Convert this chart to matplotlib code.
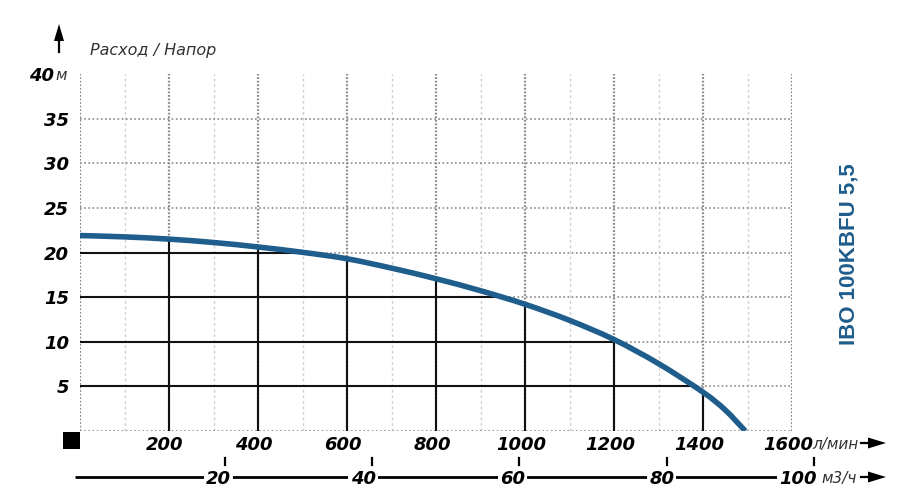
import matplotlib
matplotlib.use("Agg")
import matplotlib.pyplot as plt
import numpy as np
from matplotlib.patches import Polygon, Rectangle, PathPatch
from matplotlib.path import Path
from matplotlib.transforms import IdentityTransform

# ---- data ----
flow_lpm = [0, 100, 200, 300, 400, 500, 600, 700, 800, 900, 1000, 1100, 1200, 1300, 1400, 1450, 1495]
head_m = [21.9, 21.75, 21.5, 21.12, 20.62, 20.02, 19.3, 18.25, 17.06, 15.72, 14.2, 12.4, 10.25, 7.55, 4.35, 2.35, 0.0]
x_ticks = [200, 400, 600, 800, 1000, 1200, 1400, 1600]
x_minor = [100, 300, 500, 700, 900, 1100, 1300, 1500]
y_ticks = [5, 10, 15, 20, 25, 30, 35, 40]
m3h_ticks = [20, 40, 60, 80, 100]
model_name = "IBO 100KBFU 5,5"
y_title = "Расход / Напор"
x_unit = "л/мин"
m3h_unit = "м3/ч"
y_unit = "м"

# label pixel shifts relative to tick marks (style)
m3h_label_shift = {20: -6, 40: -9, 60: -7, 80: -5, 100: -16}

BLUE = "#1e5d8c"
W, H = 915, 501
fig = plt.figure(figsize=(W / 100, H / 100), dpi=100)
ax = fig.add_axes([80 / W, 1 - 431 / H, 712 / W, 357 / H])
ax.set_xlim(0, 1600)
ax.set_ylim(0, 40)
for s in ax.spines.values():
    s.set_visible(False)
ax.set_xticks([])
ax.set_yticks([])

# grid
for xv in x_minor:
    ax.axvline(xv, color="#cfcfcf", lw=1.0, ls=(0, (2, 2)), zorder=1)
for xv in [0] + x_ticks:
    ax.axvline(xv, color="#8a8a8a", lw=1.6, ls=(0, (0.8, 0.8)), zorder=1.2)
for yv in [0] + y_ticks[:-1]:
    ax.axhline(yv, color="#8a8a8a", lw=1.2, ls=(0, (1, 1.5)), zorder=1.2)

# solid reference lines up to curve
fl = np.array(flow_lpm, float)
hd = np.array(head_m, float)
for xv in x_ticks:
    if xv < fl[-1]:
        yv = np.interp(xv, fl, hd)
        ax.plot([xv, xv], [0, yv], color="#111111", lw=1.5, zorder=2, solid_capstyle="butt")
for yv in [5, 10, 15, 20]:
    xv = np.interp(yv, hd[::-1], fl[::-1])
    ax.plot([0, xv], [yv, yv], color="#111111", lw=1.5, zorder=2, solid_capstyle="butt")

# smooth curve through the read points (Catmull-Rom -> cubic Bezier)
pts = np.column_stack([fl, hd])
verts = [pts[0]]
codes = [Path.MOVETO]
n = len(pts)
for i in range(n - 1):
    p0 = pts[i - 1] if i > 0 else pts[i]
    p1 = pts[i]
    p2 = pts[i + 1]
    p3 = pts[i + 2] if i + 2 < n else pts[i + 1]
    c1 = p1 + (p2 - p0) / 6.0
    c2 = p2 - (p3 - p1) / 6.0
    verts += [c1, c2, p2]
    codes += [Path.CURVE4] * 3
curve = PathPatch(Path(verts, codes), fc="none", ec=BLUE, lw=4.0, zorder=3,
                  capstyle="butt", joinstyle="round")
ax.add_patch(curve)

num_font = dict(family="DejaVu Sans", weight="bold", style="italic", size=13)
unit_font = dict(family="DejaVu Sans", style="italic", size=11, color="#333333")

# y labels
ytr = ax.get_yaxis_transform()
for yv in y_ticks:
    if yv == 40:
        ax.annotate(str(yv), xy=(0, yv), xycoords=ytr, xytext=(-26 * 0.72, 0),
                    textcoords="offset points", ha="right", va="center_baseline",
                    **num_font)
        ax.annotate(y_unit, xy=(0, yv), xycoords=ytr, xytext=(-25 * 0.72, 0),
                    textcoords="offset points", ha="left", va="center_baseline",
                    **unit_font)
    else:
        ax.annotate(str(yv), xy=(0, yv), xycoords=ytr, xytext=(-11 * 0.72, 0),
                    textcoords="offset points", ha="right", va="center_baseline",
                    **num_font)

# x labels (l/min)
xtr = ax.get_xaxis_transform()
for xv in x_ticks:
    ax.annotate(str(xv), xy=(xv, 0), xycoords=xtr, xytext=(-4 * 0.72, -12 * 0.72),
                textcoords="offset points", ha="center", va="center_baseline",
                **num_font)
ax.annotate(x_unit, xy=(1600, 0), xycoords=xtr, xytext=(20 * 0.72, -12 * 0.72),
            textcoords="offset points", ha="left", va="center_baseline", **unit_font)

# secondary m3/h axis
ax2 = fig.add_axes([80 / W, 1 - 478 / H, 712 / W, 2 / H])
ax2.set_xlim(0.34, 97.0)
ax2.set_ylim(0, 1)
ax2.axis("off")
x2tr = ax2.get_xaxis_transform()
ax2.plot([-0.3, m3h_ticks[-1]], [0.5, 0.5], color="black", lw=2.0, clip_on=False,
         transform=x2tr, zorder=1, solid_capstyle="butt")
for mv in m3h_ticks:
    ax2.annotate(str(mv), xy=(mv, 0.5), xycoords=x2tr,
                 xytext=(m3h_label_shift[mv] * 0.72, 0),
                 textcoords="offset points", ha="center", va="center_baseline",
                 bbox=dict(boxstyle="square,pad=0.12", fc="white", ec="none"),
                 zorder=3, annotation_clip=False, **num_font)
ax2.annotate(m3h_unit, xy=(m3h_ticks[-1], 0.5), xycoords=x2tr, xytext=(7 * 0.72, 0),
             textcoords="offset points", ha="left", va="center_baseline",
             annotation_clip=False, **unit_font)

# tick marks of the m3/h scale, placed from ax2 data positions
fig.canvas.draw()
for mv in m3h_ticks:
    px, _ = ax2.transData.transform((mv, 0))
    fig.add_artist(plt.Line2D([px, px], [H - 458, H - 465], color="black", lw=1.6,
                              transform=IdentityTransform()))

# arrows (figure pixels, origin bottom-left)
def right_arrow(yimg):
    y = H - yimg
    fig.add_artist(plt.Line2D([861, 872], [y, y], color="black", lw=1.6,
                              transform=IdentityTransform()))
    fig.add_artist(Polygon([[868, y + 5.5], [886, y], [868, y - 5.5]], closed=True,
                           fc="black", ec="none", transform=IdentityTransform()))

right_arrow(443)
right_arrow(477)
# up arrow
fig.add_artist(plt.Line2D([59, 59], [H - 52, H - 38], color="black", lw=1.6,
                          transform=IdentityTransform()))
fig.add_artist(Polygon([[54, H - 41], [59, H - 24], [64, H - 41]], closed=True,
                       fc="black", ec="none", transform=IdentityTransform()))
# black square
fig.add_artist(Rectangle((63, H - 449), 17, 17, fc="black", ec="none",
                         transform=IdentityTransform()))

# y title
fig.text(90 / W, 1 - 50 / H, y_title, ha="left", va="center",
         family="DejaVu Sans", style="italic", size=11.5, color="#333333")

# model name
fig.text(849 / W, 1 - 254 / H, model_name, rotation=90, ha="center", va="center",
         family="Liberation Sans", weight="bold", size=16, color=BLUE)

fig.savefig("out.png", dpi=100)
